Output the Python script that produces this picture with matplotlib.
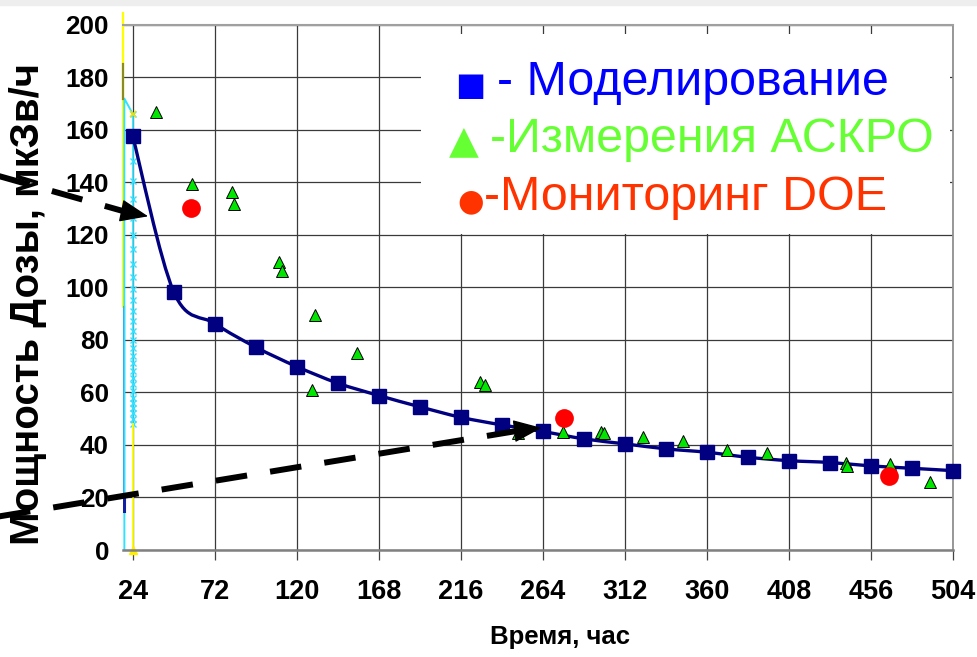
import numpy as np
import matplotlib
matplotlib.use("Agg")
import matplotlib.pyplot as plt
from matplotlib.path import Path
from matplotlib.patches import PathPatch, Rectangle

plt.rcParams['font.family'] = ['Liberation Sans', 'DejaVu Sans']

# ---------------- data ----------------
model_t = [24, 48, 72, 96, 120, 144, 168, 192, 216, 240, 264, 288, 312, 336,
           360, 384, 408, 432, 456, 480, 504]
model_v = [157.5, 98.2, 86.2, 77.2, 69.8, 63.5, 58.8, 54.5, 50.5, 47.6, 45.1,
           42.3, 40.4, 38.5, 37.2, 35.3, 34.0, 33.3, 32.0, 31.1, 30.2]

askro_t = [37.4, 58.9, 81.9, 83.5, 109.6, 111.5, 130.7, 129.0, 155.0, 227.3,
           230.2, 249.6, 276.0, 298.0, 299.5, 322.8, 346.2, 371.6, 395.0,
           441.2, 442.1, 467.0, 490.5]
askro_v = [166.6, 139.4, 136.3, 131.8, 109.8, 106.0, 89.5, 61.0, 74.9, 64.1,
           62.9, 44.4, 44.8, 44.8, 44.4, 42.9, 41.6, 38.1, 37.1, 33.3, 32.0,
           32.6, 26.0]

doe_t = [58.1, 276.4, 466.5]
doe_v = [130.2, 50.2, 28.2]

# auxiliary vertical series at t = 24 (artefacts of the original chart)
aux_cyan_v = [166, 156.6, 148.2, 140.3, 133.4, 126.5, 120, 114.5, 109, 104,
              99.5, 95, 91, 87, 83.5, 80, 77, 74, 71, 68, 65.5, 63, 60.5, 58,
              56, 54, 52, 50, 48]
aux_yellow_v = [48, 0]

x_ticks = [24, 72, 120, 168, 216, 264, 312, 360, 408, 456, 504]
y_ticks = [0, 20, 40, 60, 80, 100, 120, 140, 160, 180, 200]
x_min, x_max = 18.3, 504
y_min, y_max = 0, 200

legend_lines = ["- Моделирование", "-Измерения АСКРО", "-Мониторинг DOE"]
legend_symbols = ["■", "▲", "●"]
legend_colors = ["#0000FF", "#66FF33", "#FF3300"]

# ---------------- figure ----------------
W, H = 978, 657
fig = plt.figure(figsize=(W / 100, H / 100), dpi=100)
fig.patches.append(Rectangle((0, 1 - 5 / H), 1, 5 / H, transform=fig.transFigure,
                             color="#EEEEEE", zorder=0))

ax_l, ax_r, ax_t, ax_b = 123, 953, 24.5, 550
ax = fig.add_axes([ax_l / W, 1 - ax_b / H, (ax_r - ax_l) / W, (ax_b - ax_t) / H])
ax.set_xlim(x_min, x_max)
ax.set_ylim(y_min, y_max)
ax.set_xticks(x_ticks)
ax.set_yticks(y_ticks)
ax.set_axisbelow(True)
ax.grid(True, color="#3a3a3a", lw=0.9)

ax.spines["left"].set_visible(False)
ax.spines["bottom"].set_color("#808080")
ax.spines["bottom"].set_linewidth(1.8)
ax.spines["top"].set_color("#A0A0A0")
ax.spines["top"].set_linewidth(1.5)
ax.spines["right"].set_color("#909090")
ax.spines["right"].set_linewidth(1.3)

ax.tick_params(axis="x", direction="out", length=7, width=0.9, color="#444444",
               labelsize=19.5, pad=14)
ax.tick_params(axis="y", length=0, labelsize=18.8, pad=10)
for lab in ax.get_xticklabels() + ax.get_yticklabels():
    lab.set_fontweight("bold")

# legend box (white, covers grid)
ax.add_patch(Rectangle((192.7, 120.4), 502.0 - 192.7, 196.2 - 120.4,
                       facecolor="white", edgecolor="none", zorder=1))

# auxiliary lines on the left edge
ax.plot([x_min, x_min], [92.6, 204.2], color="#FFFF00", lw=1.6, clip_on=False, zorder=2)
ax.plot([x_min, x_min], [171.8, 184.8], color="#8B8B20", lw=1.6, clip_on=False, zorder=2.1)
ax.plot([x_min + 0.3, x_min + 0.3], [15, 92.6], color="#3060E0", lw=1.6, zorder=2)
ax.plot([x_min + 0.3, x_min + 0.3], [15, 21], color="#1020A0", lw=2.2, zorder=2.1)
ax.plot([x_min + 0.8, x_min + 0.8, 24], [0, 171.8, aux_cyan_v[0]], color="#33E0FF",
        lw=1.4, zorder=2)
ax.plot([24] * len(aux_cyan_v), aux_cyan_v, color="#33E0FF", lw=1.2,
        marker="x", ms=4, mew=1.0, zorder=2.2)
ax.plot([24] * len(aux_yellow_v), aux_yellow_v, color="#FFFF00", lw=1.3, zorder=2.2)
ax.plot([24], [aux_yellow_v[-1]], color="#FFEE00", marker="^", ms=6, ls="none",
        clip_on=False, zorder=2.3)
ax.plot([24], [aux_cyan_v[0]], color="#F0E000", marker="x", ms=5, mew=1.2,
        ls="none", zorder=2.3)


# model: smoothed line (Catmull-Rom as Excel does) + squares
def smooth_path(xs, ys):
    pts = np.column_stack([xs, ys]).astype(float)
    n = len(pts)
    verts = [pts[0]]
    codes = [Path.MOVETO]
    for i in range(n - 1):
        p0 = pts[i - 1] if i > 0 else pts[i]
        p1, p2 = pts[i], pts[i + 1]
        p3 = pts[i + 2] if i + 2 < n else pts[i + 1]
        verts += [p1 + (p2 - p0) / 6, p2 - (p3 - p1) / 6, p2]
        codes += [Path.CURVE4] * 3
    return Path(verts, codes)


ax.add_patch(PathPatch(smooth_path(model_t, model_v), facecolor="none",
                       edgecolor="#000080", lw=2.4, zorder=3))
ax.plot(model_t, model_v, ls="none", marker="s", ms=9.5, color="#000080",
        mec="#000080", zorder=3.5, clip_on=False)

ax.plot(askro_t, askro_v, ls="none", marker="^", ms=8.5, mfc="#00E600",
        mec="#000000", mew=0.7, zorder=4)
ax.plot(doe_t, doe_v, ls="none", marker="o", ms=13.5, mfc="#FF0000",
        mec="#FF0000", mew=0, zorder=5)

# dashed arrows (in data coordinates)
arrows = [
    dict(start=(-61.3, 143.6), base=(18.3, 129.0), tip=(33.0, 127.0)),
    dict(start=(-67.1, 11.4), base=(250.6, 45.5), tip=(263.2, 46.5)),
]
for a in arrows:
    ax.plot([a["start"][0], a["base"][0]], [a["start"][1], a["base"][1]],
            color="black", lw=4.3, ls=(0, (5.3, 3.9)), solid_capstyle="butt",
            dash_capstyle="butt", clip_on=False, zorder=6)
    ax.annotate("", xy=a["tip"], xytext=a["base"], annotation_clip=False,
                arrowprops=dict(arrowstyle="-|>,head_length=0.9,head_width=0.36",
                                mutation_scale=20, color="black", lw=1,
                                shrinkA=0, shrinkB=0), zorder=6)

# legend texts
sym_x = [455, 449, 457]
txt_x = [497, 490, 484]
base_y = [95, 152, 210]
sym_size = [23, 28, 22]
for sym, txt, c, sx, tx, by, ss in zip(legend_symbols, legend_lines, legend_colors,
                                       sym_x, txt_x, base_y, sym_size):
    fig.text(sx / W, 1 - by / H, sym, color=c, fontsize=ss, family="DejaVu Sans",
             ha="left", va="baseline")
    fig.text(tx / W, 1 - by / H, txt, color=c, fontsize=34.8, ha="left", va="baseline")

# axis titles
fig.text(28 / W, 1 - 304 / H, "Мощность Дозы, мкЗв/ч", rotation=90, ha="center",
         va="center", fontsize=29, fontweight="bold")
fig.text(560 / W, 1 - 637 / H, "Время, час", ha="center", va="center",
         fontsize=18.5, fontweight="bold")

fig.savefig("out.png", dpi=100)
